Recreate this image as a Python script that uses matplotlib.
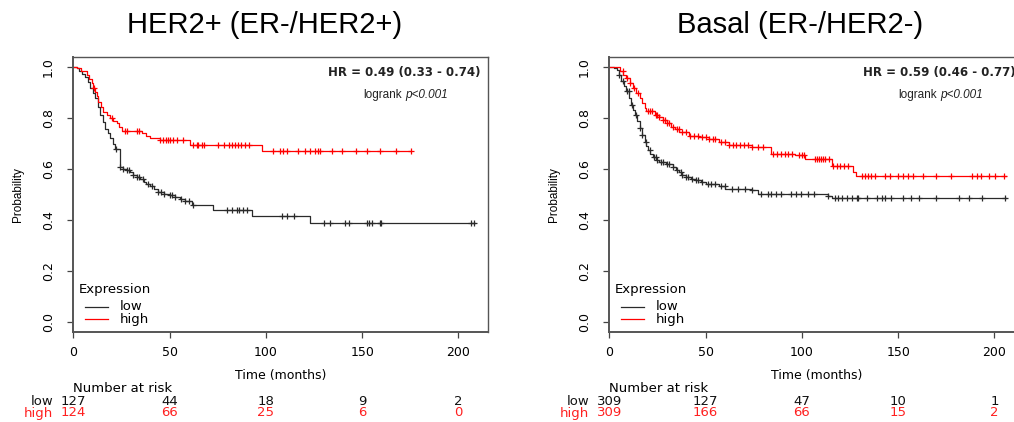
import numpy as np
import matplotlib
matplotlib.use('Agg')
import matplotlib.pyplot as plt
import matplotlib.transforms as mtrans
from matplotlib.lines import Line2D

# ---- HER2+ (ER-/HER2+) ----
her2_low_t = [0, 1.8, 3, 4.5, 6, 7.5, 8.7, 10, 11.3, 12.6, 13.9, 15.2, 16.5, 17.8, 19.1, 20.4,
              21.6, 24.2, 26, 27.8, 29.4, 31, 33, 34.6, 36.5, 38, 39.8, 42, 44, 47, 50, 53, 55.4,
              58, 61.4, 72.7, 92.6, 122.8]
her2_low_s = [1.0, 0.995, 0.985, 0.975, 0.96, 0.94, 0.918, 0.9, 0.878, 0.845, 0.812, 0.785, 0.759,
              0.74, 0.72, 0.70, 0.68, 0.607, 0.60, 0.595, 0.588, 0.578, 0.568, 0.561, 0.55, 0.542,
              0.535, 0.52, 0.51, 0.502, 0.498, 0.49, 0.483, 0.475, 0.46, 0.44, 0.416, 0.387]
her2_low_end = 208.5
her2_low_cens = [22, 24.5, 26, 28, 29, 31, 33, 34, 36, 39, 41, 44, 45.5, 47, 50, 51.5, 53, 56, 58,
                 60, 62, 80, 82.5, 85, 86, 88, 90, 108.4, 111, 114.5, 130, 133.4, 141.2, 143, 152.3,
                 153.7, 154.9, 159.2, 160, 206.5, 208.3]

her2_high_t = [0, 2, 4, 6.9, 8.2, 9.5, 10.4, 11.3, 12.2, 13, 14.3, 15.6, 17.3, 19, 20.8, 22.5, 23.8,
               25.1, 35.5, 37.5, 40, 45, 60.6, 97.8]
her2_high_s = [1.0, 0.995, 0.985, 0.97, 0.955, 0.937, 0.92, 0.904, 0.885, 0.865, 0.845, 0.825,
               0.812, 0.8, 0.79, 0.779, 0.765, 0.749, 0.74, 0.73, 0.72, 0.713, 0.696, 0.67]
her2_high_end = 175.6
her2_high_cens = [11, 20, 27, 28, 33, 34, 45, 46.5, 48, 49, 50, 52, 54, 57, 62, 64, 65, 67, 68, 75,
                  78, 81, 82.5, 84, 85.5, 87, 89, 91, 103.9, 107.3, 109, 110.8, 116.8, 120.3, 122.9,
                  125.5, 127.2, 128, 134.1, 139.3, 147, 152.3, 159.2, 167.8, 175.6]

# ---- Basal (ER-/HER2-) ----
basal_low_t = [0, 2.5, 3.8, 5, 6.3, 7.6, 8.9, 10.2, 11.5, 12.4, 13.2, 14.5, 15.8, 17, 18.3, 19.2,
               20, 21.3, 22.6, 24.3, 26, 29.5, 32.9, 34.6, 36.3, 38, 39.7, 42.3, 44.9, 47.5, 50,
               56.8, 60.3, 74, 77.4, 113.4, 115.9]
basal_low_s = [1.0, 0.995, 0.99, 0.968, 0.945, 0.925, 0.905, 0.878, 0.852, 0.832, 0.813, 0.787,
               0.76, 0.733, 0.707, 0.69, 0.674, 0.66, 0.648, 0.637, 0.628, 0.621, 0.608, 0.598,
               0.588, 0.578, 0.568, 0.561, 0.555, 0.548, 0.542, 0.535, 0.522, 0.516, 0.502, 0.496,
               0.485]
basal_low_end = 206
basal_low_cens = [5, 7, 9, 10, 12, 14, 16, 17, 19, 21, 23, 24, 25, 27, 28, 30, 31, 33, 35, 37, 38,
                  40, 41, 43, 45, 46, 48, 51, 53, 55, 58, 60, 63.7, 67, 70.5, 74, 79, 82.5, 84,
                  86.6, 89, 94.5, 97, 99.7, 103, 106.5, 113.4, 117.4, 119, 121, 123.4, 126, 128.5,
                  129.4, 133.7, 138.8, 141.4, 143, 146.5, 152.5, 156.8, 161, 169.6, 181.6, 186.8,
                  193.6, 205.7]

basal_high_t = [0, 5.5, 7.2, 8.9, 10.6, 12.3, 14, 15.8, 17, 18.3, 19.2, 23.5, 25.6, 27.7, 30, 32,
                34, 36.3, 41.4, 46.6, 51.7, 56.8, 62, 74, 84.2, 96.2, 101.4, 115.6, 126.6, 128.3]
basal_high_s = [1.0, 0.984, 0.971, 0.958, 0.938, 0.918, 0.898, 0.879, 0.859, 0.839, 0.826, 0.813,
                0.803, 0.793, 0.78, 0.766, 0.756, 0.747, 0.731, 0.727, 0.717, 0.707, 0.694, 0.687,
                0.661, 0.654, 0.641, 0.611, 0.59, 0.574]
basal_high_end = 206
basal_high_cens = [7, 9, 11, 13, 15, 20, 21, 22, 24, 25, 26, 28, 29, 30, 31, 33, 35, 36, 38, 40, 42,
                   44, 46, 48, 50, 52, 54, 55, 58, 60, 62, 64, 66, 68, 70, 72, 74, 77, 80, 85, 87,
                   89, 91, 93, 95, 98.5, 100, 101, 107, 108, 109, 110, 111, 112, 114, 116, 118, 120,
                   122, 124, 131, 132.7, 134.4, 136, 137.8, 143, 145.6, 149.9, 152.4, 155, 157.6,
                   162.7, 169.6, 177.4, 188.5, 191, 192.8, 197, 200.5, 204.8]

risk_times = [0, 50, 100, 150, 200]
her2_risk_low = [127, 44, 18, 9, 2]
her2_risk_high = [124, 66, 25, 6, 0]
basal_risk_low = [309, 127, 47, 10, 1]
basal_risk_high = [309, 166, 66, 15, 2]

LOW_C = '#2a2a2a'
HIGH_C = '#ff0000'

W, H = 1014, 422
fig = plt.figure(figsize=(W / 100, H / 100), dpi=100)


def fx(x):
    return x / W


def fy(y):
    return 1 - y / H


def km(ax, t, s, end, cens, color):
    t = np.array(t + [end])
    s = np.array(s + [s[-1]])
    ax.step(t, s, where='post', color=color, lw=0.9)
    c = np.array(cens)
    idx = np.searchsorted(t, c, side='right') - 1
    ax.plot(c, s[idx], ls='none', marker='+', ms=5, mew=0.9, color=color)


def panel(left, title, title_x, lo, hi, hr, hr_right, rank_left, risk_lo, risk_hi, label_right):
    ax = fig.add_axes([fx(left), fy(332), 415 / W, (332 - 57) / H])
    km(ax, *lo, LOW_C)
    km(ax, *hi, HIGH_C)
    ax.set_xlim(0, 215.5)
    ax.set_ylim(-0.04, 1.04)
    ax.set_xticks([0, 50, 100, 150, 200])
    ax.set_yticks([0.0, 0.2, 0.4, 0.6, 0.8, 1.0])
    ax.set_yticklabels(['0.0', '0.2', '0.4', '0.6', '0.8', '1.0'], rotation=90, va='center')
    ax.tick_params(axis='both', direction='out', length=4.3, width=0.9, color='#444444',
                   labelsize=9)
    ax.tick_params(axis='y', pad=9)
    ax.tick_params(axis='x', pad=6)
    for sp in ax.spines.values():
        sp.set_color('#555555')
        sp.set_linewidth(1.0)
    ax.spines['left'].set_linewidth(1.4)
    ax.spines['bottom'].set_linewidth(1.4)

    fig.text(fx(title_x), fy(33), title, ha='center', va='baseline', fontsize=21,
             family='Liberation Sans')
    fig.text(fx(left - 55), fy(195), 'Probability', rotation=90, ha='center', va='center',
             fontsize=8.5, family='Liberation Sans')
    fig.text(fx(left + 207), fy(376), 'Time (months)', ha='center', va='center', fontsize=9)
    fig.text(fx(hr_right), fy(72.7), hr, ha='right', va='center', fontsize=8.5,
             fontweight='bold', color='#222222')
    fig.text(fx(rank_left), fy(95), 'logrank', ha='left', va='center', fontsize=8.5,
             family='Liberation Sans', color='#222222')
    fig.text(fx(rank_left + 42), fy(95), 'p<0.001', ha='left', va='center', fontsize=8.5,
             family='Liberation Sans', style='italic', color='#222222')

    # legend
    fig.text(fx(left + 5), fy(290), 'Expression', ha='left', va='center', fontsize=9.5)
    for yy, name, col in [(306.7, 'low', LOW_C), (319, 'high', HIGH_C)]:
        fig.add_artist(Line2D([fx(left + 12), fx(left + 35)], [fy(yy), fy(yy)],
                              color=col, lw=0.9, transform=fig.transFigure))
        fig.text(fx(left + 46), fy(yy), name, ha='left', va='center', fontsize=9.5)

    # number at risk table
    tr = mtrans.blended_transform_factory(ax.transData, fig.transFigure)
    fig.text(fx(left), fy(389), 'Number at risk', ha='left', va='center', fontsize=9.5)
    for yy, name, vals, col in [(401.7, 'low', risk_lo, '#111111'),
                                (413, 'high', risk_hi, '#ff2020')]:
        fig.text(fx(label_right), fy(yy), name, ha='right', va='center', fontsize=9.5, color=col)
        for tt, v in zip(risk_times, vals):
            ax.text(tt, fy(yy), str(v), transform=tr, ha='center', va='center',
                    fontsize=9.5, color=col, clip_on=False)
    return ax


panel(73.3, 'HER2+ (ER-/HER2+)', 265,
      (her2_low_t, her2_low_s, her2_low_end, her2_low_cens),
      (her2_high_t, her2_high_s, her2_high_end, her2_high_cens),
      'HR = 0.49 (0.33 - 0.74)', 480, 363, her2_risk_low, her2_risk_high, 53)

panel(609.3, 'Basal (ER-/HER2-)', 800,
      (basal_low_t, basal_low_s, basal_low_end, basal_low_cens),
      (basal_high_t, basal_high_s, basal_high_end, basal_high_cens),
      'HR = 0.59 (0.46 - 0.77)', 1016, 898, basal_risk_low, basal_risk_high, 589)

fig.savefig('out.png', dpi=100)
